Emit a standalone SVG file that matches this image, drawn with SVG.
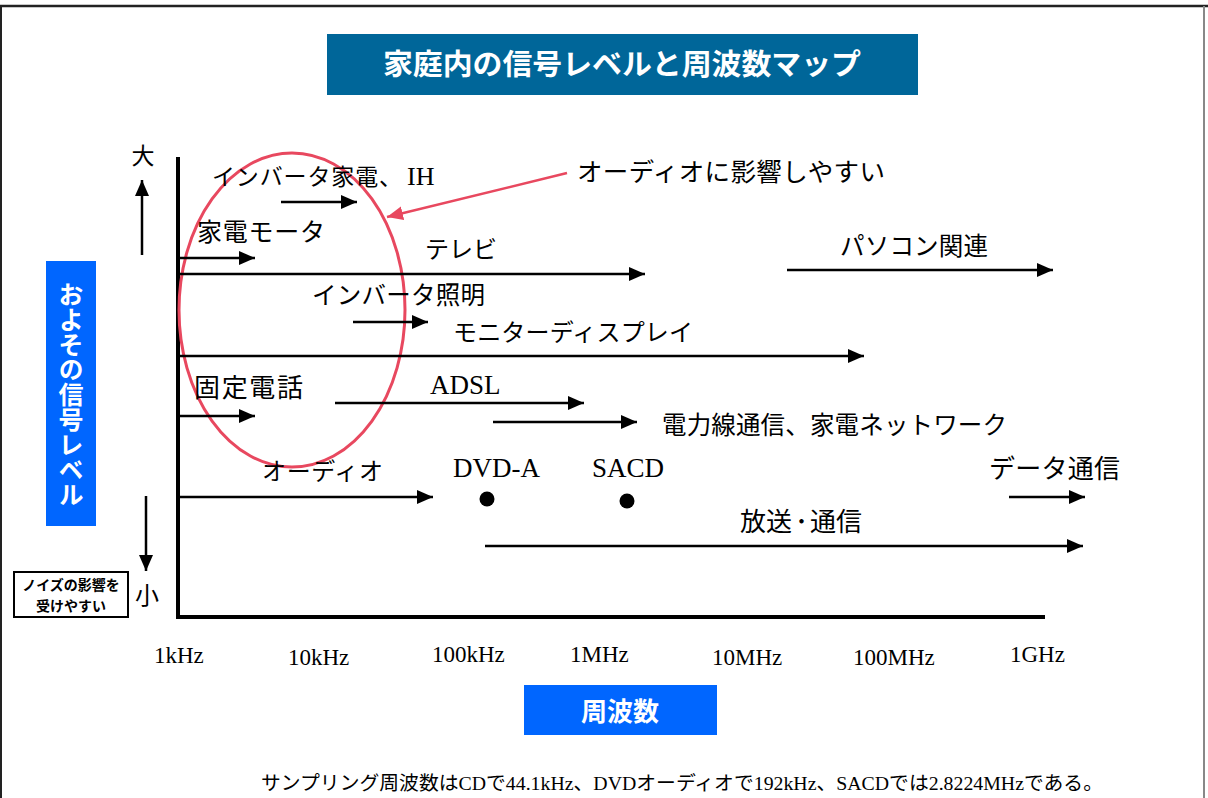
<svg xmlns="http://www.w3.org/2000/svg" width="1208" height="798" viewBox="0 0 1208 798">
<defs>
<marker id="ah" markerUnits="userSpaceOnUse" markerWidth="16" markerHeight="14" refX="16" refY="7" orient="auto">
<path d="M0,0 L16,7 L0,14 z" fill="#000"/>
</marker>
<marker id="ahr" markerUnits="userSpaceOnUse" markerWidth="16" markerHeight="14" refX="16" refY="7" orient="auto">
<path d="M0,0 L16,7 L0,14 z" fill="#E8485F"/>
</marker>
<style>
.j{font-family:"Liberation Serif","Noto Sans CJK JP",serif;fill:#000}
.s{font-family:"Liberation Serif",serif;fill:#000}
.w{font-family:"Noto Sans CJK JP","Liberation Sans",sans-serif;fill:#fff;font-weight:bold}
.ar{stroke:#000;stroke-width:2.5;fill:none;marker-end:url(#ah)}
.ax{stroke:#000;stroke-width:4;fill:none}
</style>
</defs>
<rect x="0" y="0" width="1208" height="798" fill="#fff"/>
<g id="page">
<line x1="0" y1="6" x2="1208" y2="6" stroke="#222" stroke-width="2.5"/>
<line x1="1" y1="6" x2="1" y2="798" stroke="#222" stroke-width="2"/>
<line x1="1204" y1="6" x2="1204" y2="798" stroke="#888" stroke-width="2"/>
</g>
<g id="title">
<rect x="327" y="34" width="591" height="61" fill="#006699"/>
<text class="w" x="622" y="75" font-size="29" text-anchor="middle" textLength="478" lengthAdjust="spacingAndGlyphs">家庭内の信号レベルと周波数マップ</text>
</g>
<g id="axes">
<line class="ax" x1="178" y1="157" x2="178" y2="619"/>
<line class="ax" x1="176" y1="617" x2="1045" y2="617"/>
</g>
<g id="level-scale">
<text class="j" x="143" y="164" font-size="23" text-anchor="middle">大</text>
<line class="ar" x1="142" y1="255" x2="142" y2="180"/>
<line class="ar" x1="146" y1="496" x2="146" y2="571"/>
<text class="j" x="147" y="604" font-size="24" text-anchor="middle">小</text>
</g>
<g id="y-label">
<rect x="46" y="261" width="50" height="265" fill="#0066FF"/>
<text class="w" x="71" y="394" font-size="25" text-anchor="middle" style="writing-mode:vertical-rl">およその信号レベル</text>
</g>
<g id="noise-box">
<rect x="14" y="572" width="114" height="45" fill="#fff" stroke="#000" stroke-width="2"/>
<text x="71" y="590" font-size="14" font-weight="bold" text-anchor="middle" style="font-family:'Noto Sans CJK JP',sans-serif">ノイズの影響を</text>
<text x="71" y="611" font-size="14" font-weight="bold" text-anchor="middle" style="font-family:'Noto Sans CJK JP',sans-serif">受けやすい</text>
</g>
<g id="highlight">
<ellipse cx="292" cy="310" rx="113" ry="157" fill="none" stroke="#E8485F" stroke-width="3"/>
<text class="j" x="577" y="181" font-size="25.5" textLength="308">オーディオに影響しやすい</text>
</g>
<g id="labels">
<text class="j" x="212" y="185" font-size="23"><tspan textLength="190">インバータ家電、</tspan><tspan x="407" font-size="26">IH</tspan></text>
<text class="j" x="197" y="241" font-size="25" textLength="128">家電モータ</text>
<text class="j" x="425" y="258" font-size="24">テレビ</text>
<text class="j" x="840" y="255" font-size="24.5" textLength="148">パソコン関連</text>
<text class="j" x="312" y="304" font-size="24.5" textLength="173">インバータ照明</text>
<text class="j" x="453" y="341" font-size="24" textLength="240">モニターディスプレイ</text>
<text class="j" x="194" y="397" font-size="26" textLength="109">固定電話</text>
<text class="s" x="430" y="394" font-size="27">ADSL</text>
<text class="j" x="662" y="434" font-size="24.5" textLength="345">電力線通信、家電ネットワーク</text>
<text class="j" x="262" y="480" font-size="24" textLength="121">オーディオ</text>
<text class="s" x="453" y="477" font-size="27">DVD-A</text>
<text class="s" x="592" y="477" font-size="27">SACD</text>
<text class="j" x="740" y="531" font-size="26">放送<tspan x="795">･</tspan><tspan x="810">通信</tspan></text>
<text class="j" x="989" y="478" font-size="26" textLength="131">データ通信</text>
<circle cx="487" cy="499" r="7.5" fill="#000"/>
<circle cx="627" cy="501" r="7.5" fill="#000"/>
</g>
<g id="connectors">
<line x1="567" y1="173" x2="387" y2="217" stroke="#E8485F" stroke-width="2.5" marker-end="url(#ahr)"/>
<line class="ar" x1="281" y1="202" x2="357" y2="202"/>
<line class="ar" x1="180" y1="258" x2="255" y2="258"/>
<line class="ar" x1="180" y1="274" x2="645" y2="274"/>
<line class="ar" x1="787" y1="270" x2="1053" y2="270"/>
<line class="ar" x1="353" y1="322" x2="428" y2="322"/>
<line class="ar" x1="180" y1="356" x2="864" y2="356"/>
<line class="ar" x1="180" y1="416" x2="255" y2="416"/>
<line class="ar" x1="335" y1="403" x2="584" y2="403"/>
<line class="ar" x1="493" y1="422" x2="637" y2="422"/>
<line class="ar" x1="180" y1="497" x2="433" y2="497"/>
<line class="ar" x1="1009" y1="497" x2="1085" y2="497"/>
<line class="ar" x1="485" y1="546" x2="1083" y2="546"/>
</g>
<g id="x-ticks">
<text class="s" x="154" y="663" font-size="23">1kHz</text>
<text class="s" x="288" y="665" font-size="23">10kHz</text>
<text class="s" x="432" y="662" font-size="23">100kHz</text>
<text class="s" x="570" y="662" font-size="23">1MHz</text>
<text class="s" x="712" y="665" font-size="23">10MHz</text>
<text class="s" x="853" y="665" font-size="23">100MHz</text>
<text class="s" x="1010" y="662" font-size="23">1GHz</text>
</g>
<g id="x-label">
<rect x="524" y="685" width="193" height="50" fill="#0066FF"/>
<text class="w" x="620" y="721" font-size="26" text-anchor="middle">周波数</text>
</g>
<g id="note">
<text class="j" x="261" y="790" font-size="19.5" textLength="842" lengthAdjust="spacingAndGlyphs">サンプリング周波数はCDで44.1kHz、DVDオーディオで192kHz、SACDでは2.8224MHzである。</text>
</g>
</svg>
